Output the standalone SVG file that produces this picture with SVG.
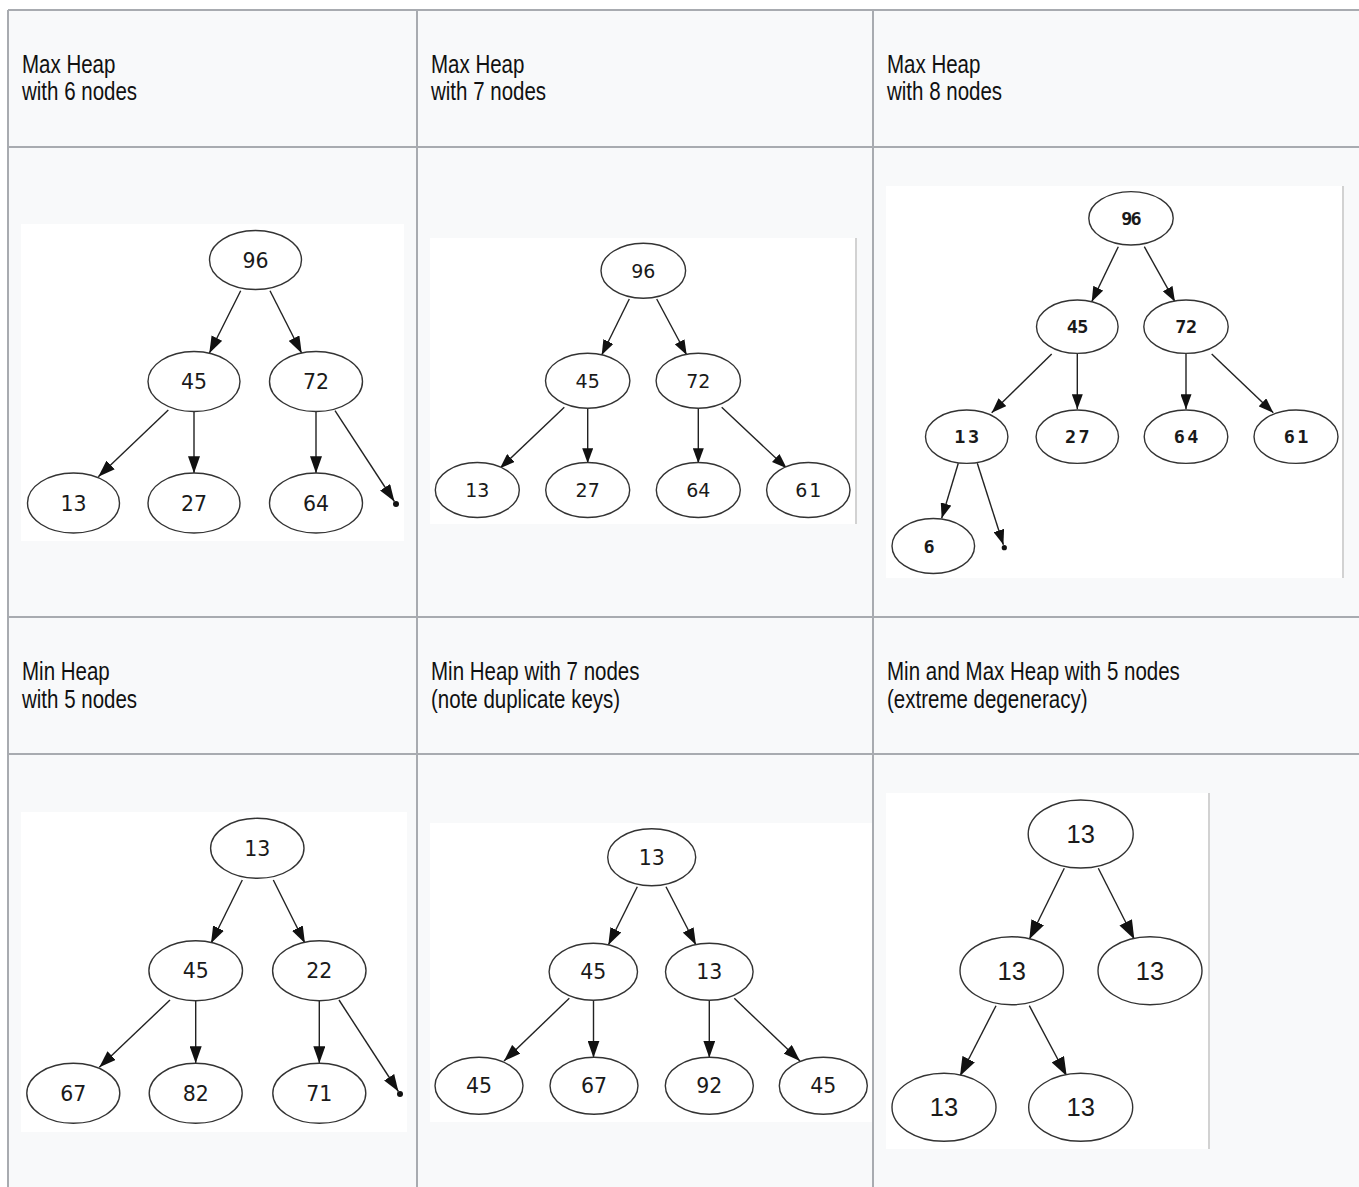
<svg xmlns="http://www.w3.org/2000/svg" width="1359" height="1187" viewBox="0 0 1359 1187">
<style>
.grid{stroke:#a8abb0;stroke-width:2;fill:none}
.hdr{font-family:"Liberation Sans",Arial,sans-serif;font-size:25px;fill:#111}
.img{fill:#ffffff}
.imgedge{stroke:#d2d2d2;stroke-width:2}
.nd{fill:#ffffff;stroke:#333;stroke-width:1.4}
.t1{font-family:"DejaVu Sans",sans-serif;font-size:20.5px;fill:#1a1a1a;text-anchor:middle}
.t2{font-family:"DejaVu Sans",sans-serif;font-size:19px;fill:#1a1a1a;text-anchor:middle}
.t3{font-family:"DejaVu Sans Mono",monospace;font-weight:bold;font-size:18.5px;fill:#1a1a1a;text-anchor:middle}
.t6{font-family:"Liberation Sans",Arial,sans-serif;font-size:25.5px;fill:#1a1a1a;text-anchor:middle}
.e{stroke:#222;stroke-width:1.4;fill:none}
.eA{marker-end:url(#mA)}
.eB{marker-end:url(#mB)}
.eC{marker-end:url(#mC)}
.dot{fill:#111}
</style>
<defs>
<marker id="mA" markerUnits="userSpaceOnUse" markerWidth="17" markerHeight="12" refX="17" refY="6" orient="auto"><path d="M0,0 L17,6 L0,12 z" fill="#111"/></marker>
<marker id="mB" markerUnits="userSpaceOnUse" markerWidth="15" markerHeight="11" refX="15" refY="5.5" orient="auto"><path d="M0,0 L15,5.5 L0,11 z" fill="#111"/></marker>
<marker id="mC" markerUnits="userSpaceOnUse" markerWidth="19" markerHeight="14" refX="19" refY="7" orient="auto"><path d="M0,0 L19,7 L0,14 z" fill="#111"/></marker>
</defs>
<rect x="0" y="0" width="1359" height="1187" fill="#ffffff"/>
<g id="table">
<rect x="8" y="10" width="1360" height="1190" fill="#f8f9fa"/>
<line class="grid" x1="8" y1="10" x2="1359" y2="10"/>
<line class="grid" x1="8" y1="147" x2="1359" y2="147"/>
<line class="grid" x1="8" y1="617" x2="1359" y2="617"/>
<line class="grid" x1="8" y1="754" x2="1359" y2="754"/>
<line class="grid" x1="8" y1="10" x2="8" y2="1187"/>
<line class="grid" x1="417" y1="10" x2="417" y2="1187"/>
<line class="grid" x1="873" y1="10" x2="873" y2="1187"/>
</g>
<g id="headers">
<text class="hdr" transform="translate(22,73) scale(0.82,1)">Max Heap</text>
<text class="hdr" transform="translate(22,100) scale(0.82,1)">with 6 nodes</text>
<text class="hdr" transform="translate(431,73) scale(0.82,1)">Max Heap</text>
<text class="hdr" transform="translate(431,100) scale(0.82,1)">with 7 nodes</text>
<text class="hdr" transform="translate(887,73) scale(0.82,1)">Max Heap</text>
<text class="hdr" transform="translate(887,100) scale(0.82,1)">with 8 nodes</text>
<text class="hdr" transform="translate(22,680) scale(0.82,1)">Min Heap</text>
<text class="hdr" transform="translate(22,707.5) scale(0.82,1)">with 5 nodes</text>
<text class="hdr" transform="translate(431,680) scale(0.82,1)">Min Heap with 7 nodes</text>
<text class="hdr" transform="translate(431,707.5) scale(0.82,1)">(note duplicate keys)</text>
<text class="hdr" transform="translate(887,680) scale(0.82,1)">Min and Max Heap with 5 nodes</text>
<text class="hdr" transform="translate(887,707.5) scale(0.82,1)">(extreme degeneracy)</text>
</g>
<g id="backgrounds">
<rect class="img" x="21" y="224" width="383" height="317"/>
<rect class="img" x="430" y="238" width="426" height="286"/>
<line class="imgedge" x1="856" y1="238" x2="856" y2="524"/>
<rect class="img" x="886" y="186" width="456" height="392"/>
<line class="imgedge" x1="1343" y1="186" x2="1343" y2="578"/>
<rect class="img" x="21" y="812" width="386" height="320"/>
<rect class="img" x="430" y="823" width="442" height="299"/>
<rect class="img" x="886" y="793" width="322" height="356"/>
<line class="imgedge" x1="1209" y1="793" x2="1209" y2="1149"/>
</g>
<g id="connectors">
<!-- panel 1 -->
<line class="e eA" x1="240.7" y1="290.7" x2="209.3" y2="353.3"/>
<line class="e eA" x1="270" y1="290.7" x2="301.7" y2="353.3"/>
<line class="e eA" x1="168.3" y1="410" x2="98.3" y2="476.7"/>
<line class="e eA" x1="194" y1="411.5" x2="194" y2="473.3"/>
<line class="e eA" x1="316" y1="411.5" x2="316" y2="473.3"/>
<line class="e eA" x1="335" y1="410.7" x2="394.4" y2="501.5"/>
<!-- panel 2 -->
<line class="e eB" x1="629.3" y1="299" x2="601.7" y2="355"/>
<line class="e eB" x1="656.7" y1="299" x2="686.7" y2="355"/>
<line class="e eB" x1="564.3" y1="407.3" x2="500" y2="468.3"/>
<line class="e eB" x1="587.7" y1="408.2" x2="587.7" y2="463.3"/>
<line class="e eB" x1="698.3" y1="408.2" x2="698.3" y2="463.3"/>
<line class="e eB" x1="721.7" y1="407.3" x2="786.7" y2="468.3"/>
<!-- panel 3 -->
<line class="e eB" x1="1118.3" y1="246.7" x2="1091.7" y2="301.7"/>
<line class="e eB" x1="1144.3" y1="246.7" x2="1175" y2="301.7"/>
<line class="e eB" x1="1051.7" y1="354" x2="991.7" y2="412.7"/>
<line class="e eB" x1="1077.3" y1="353.4" x2="1077.3" y2="409.3"/>
<line class="e eB" x1="1186" y1="353.4" x2="1186" y2="409.3"/>
<line class="e eB" x1="1211.7" y1="354" x2="1273.3" y2="412.7"/>
<line class="e eB" x1="958.3" y1="463.3" x2="941.7" y2="518.3"/>
<line class="e eB" x1="977.3" y1="463.3" x2="1003.4" y2="544.8"/>
<!-- panel 4 -->
<line class="e eA" x1="242.3" y1="880" x2="211" y2="943.3"/>
<line class="e eA" x1="273.3" y1="880" x2="305" y2="943.3"/>
<line class="e eA" x1="170" y1="1000" x2="99.3" y2="1067.3"/>
<line class="e eA" x1="195.7" y1="1000.7" x2="195.7" y2="1063.3"/>
<line class="e eA" x1="319.3" y1="1000.7" x2="319.3" y2="1063.3"/>
<line class="e eA" x1="339" y1="1000" x2="398.4" y2="1091.5"/>
<!-- panel 5 -->
<line class="e eA" x1="637.3" y1="886.7" x2="608.3" y2="945"/>
<line class="e eA" x1="666" y1="886.7" x2="696" y2="945"/>
<line class="e eA" x1="569.3" y1="998.3" x2="504" y2="1061"/>
<line class="e eA" x1="593.5" y1="1000.2" x2="593.5" y2="1057.7"/>
<line class="e eA" x1="709.3" y1="1000.2" x2="709.3" y2="1057.7"/>
<line class="e eA" x1="734.3" y1="998.3" x2="800" y2="1061"/>
<!-- panel 6 -->
<line class="e eC" x1="1064.3" y1="868.3" x2="1029.3" y2="939.3"/>
<line class="e eC" x1="1098.3" y1="868.3" x2="1134.3" y2="939.3"/>
<line class="e eC" x1="996" y1="1005.7" x2="960" y2="1076"/>
<line class="e eC" x1="1029.3" y1="1005.7" x2="1066.7" y2="1076"/>
</g>
<!-- Panel 1: Max Heap with 6 nodes -->
<g id="p1-96"><ellipse class="nd" cx="255.5" cy="260" rx="46" ry="29.5"/><text class="t1" x="255.5" y="267.5">96</text></g>
<g id="p1-45"><ellipse class="nd" cx="194" cy="381.5" rx="46" ry="30"/><text class="t1" x="194" y="389">45</text></g>
<g id="p1-72"><ellipse class="nd" cx="316" cy="381.5" rx="46.5" ry="30"/><text class="t1" x="316" y="389">72</text></g>
<g id="p1-13"><ellipse class="nd" cx="73.5" cy="503" rx="46" ry="30"/><text class="t1" x="73.5" y="510.5">13</text></g>
<g id="p1-27"><ellipse class="nd" cx="194" cy="503" rx="46" ry="30"/><text class="t1" x="194" y="510.5">27</text></g>
<g id="p1-64"><ellipse class="nd" cx="316" cy="503" rx="46.5" ry="30"/><text class="t1" x="316" y="510.5">64</text></g>
<g id="p1-null"><circle class="dot" cx="396" cy="504" r="3"/></g>
<!-- Panel 2: Max Heap with 7 nodes -->
<g id="p2-96"><ellipse class="nd" cx="643.3" cy="270.7" rx="42.3" ry="27.5"/><text class="t2" x="643.3" y="277.6">96</text></g>
<g id="p2-45"><ellipse class="nd" cx="587.7" cy="380.7" rx="42.2" ry="27.5"/><text class="t2" x="587.7" y="387.6">45</text></g>
<g id="p2-72"><ellipse class="nd" cx="698.3" cy="380.7" rx="42.2" ry="27.5"/><text class="t2" x="698.3" y="387.6">72</text></g>
<g id="p2-13"><ellipse class="nd" cx="477.3" cy="490" rx="42" ry="27.5"/><text class="t2" x="477.3" y="496.9">13</text></g>
<g id="p2-27"><ellipse class="nd" cx="587.7" cy="490" rx="42" ry="27.5"/><text class="t2" x="587.7" y="496.9">27</text></g>
<g id="p2-64"><ellipse class="nd" cx="698.3" cy="490" rx="42" ry="27.5"/><text class="t2" x="698.3" y="496.9">64</text></g>
<g id="p2-61"><ellipse class="nd" cx="808.3" cy="490" rx="41.7" ry="27.5"/><text class="t2" x="809.3" y="496.9" letter-spacing="2">61</text></g>
<!-- Panel 3: Max Heap with 8 nodes -->
<g id="p3-96"><ellipse class="nd" cx="1131" cy="218.3" rx="42.2" ry="26.7"/><text class="t3" x="1130.5" y="225" letter-spacing="-2">96</text></g>
<g id="p3-45"><ellipse class="nd" cx="1077.3" cy="326.7" rx="40.8" ry="26.7"/><text class="t3" x="1077.3" y="333.4" letter-spacing="-0.5">45</text></g>
<g id="p3-72"><ellipse class="nd" cx="1186" cy="326.7" rx="42.2" ry="26.7"/><text class="t3" x="1186" y="333.4" letter-spacing="-0.5">72</text></g>
<g id="p3-13"><ellipse class="nd" cx="966.7" cy="436.7" rx="41.2" ry="26.7"/><text class="t3" x="968" y="443.4" letter-spacing="2.5">13</text></g>
<g id="p3-27"><ellipse class="nd" cx="1077.3" cy="436.7" rx="41.2" ry="26.7"/><text class="t3" x="1078.6" y="443.4" letter-spacing="2.5">27</text></g>
<g id="p3-64"><ellipse class="nd" cx="1186" cy="436.7" rx="41.8" ry="26.7"/><text class="t3" x="1187.3" y="443.4" letter-spacing="2.5">64</text></g>
<g id="p3-61"><ellipse class="nd" cx="1296" cy="436.7" rx="42" ry="26.7"/><text class="t3" x="1297.3" y="443.4" letter-spacing="2.5">61</text></g>
<g id="p3-6"><ellipse class="nd" cx="933.3" cy="546" rx="41.3" ry="27.5"/><text class="t3" x="929" y="552.7">6</text></g>
<g id="p3-null"><circle class="dot" cx="1004.3" cy="547.7" r="2.6"/></g>
<!-- Panel 4: Min Heap with 5 nodes -->
<g id="p4-13"><ellipse class="nd" cx="257.3" cy="848.3" rx="46.7" ry="30"/><text class="t1" x="257.3" y="855.8">13</text></g>
<g id="p4-45"><ellipse class="nd" cx="195.7" cy="970.7" rx="46.8" ry="30"/><text class="t1" x="195.7" y="978.2">45</text></g>
<g id="p4-22"><ellipse class="nd" cx="319.3" cy="970.7" rx="46.7" ry="30"/><text class="t1" x="319.3" y="978.2">22</text></g>
<g id="p4-67"><ellipse class="nd" cx="73.3" cy="1093.3" rx="46.5" ry="30"/><text class="t1" x="73.3" y="1100.8">67</text></g>
<g id="p4-82"><ellipse class="nd" cx="195.7" cy="1093.3" rx="46.5" ry="30"/><text class="t1" x="195.7" y="1100.8">82</text></g>
<g id="p4-71"><ellipse class="nd" cx="319.3" cy="1093.3" rx="46.5" ry="30"/><text class="t1" x="319.3" y="1100.8">71</text></g>
<g id="p4-null"><circle class="dot" cx="400" cy="1094" r="3"/></g>
<!-- Panel 5: Min Heap with 7 nodes -->
<g id="p5-13a"><ellipse class="nd" cx="651.7" cy="857.3" rx="44" ry="28.5"/><text class="t1" x="651.7" y="864.8">13</text></g>
<g id="p5-45a"><ellipse class="nd" cx="593.3" cy="971.7" rx="44.2" ry="28.5"/><text class="t1" x="593.3" y="979.2">45</text></g>
<g id="p5-13b"><ellipse class="nd" cx="709.3" cy="971.7" rx="43.8" ry="28.5"/><text class="t1" x="709.3" y="979.2">13</text></g>
<g id="p5-45b"><ellipse class="nd" cx="479" cy="1085.7" rx="44" ry="28.5"/><text class="t1" x="479" y="1093.2">45</text></g>
<g id="p5-67"><ellipse class="nd" cx="594" cy="1085.7" rx="44" ry="28.5"/><text class="t1" x="594" y="1093.2">67</text></g>
<g id="p5-92"><ellipse class="nd" cx="709.3" cy="1085.7" rx="44" ry="28.5"/><text class="t1" x="709.3" y="1093.2">92</text></g>
<g id="p5-45c"><ellipse class="nd" cx="823.3" cy="1085.7" rx="44" ry="28.5"/><text class="t1" x="823.3" y="1093.2">45</text></g>
<!-- Panel 6: Min and Max Heap with 5 nodes -->
<g id="p6-top"><ellipse class="nd" cx="1080.7" cy="834" rx="52.5" ry="34"/><text class="t6" x="1080.7" y="843">13</text></g>
<g id="p6-ml"><ellipse class="nd" cx="1011.7" cy="970.7" rx="51.7" ry="34"/><text class="t6" x="1011.7" y="979.7">13</text></g>
<g id="p6-mr"><ellipse class="nd" cx="1150" cy="970.7" rx="52" ry="34"/><text class="t6" x="1150" y="979.7">13</text></g>
<g id="p6-bl"><ellipse class="nd" cx="944" cy="1107.3" rx="52" ry="34"/><text class="t6" x="944" y="1116.3">13</text></g>
<g id="p6-br"><ellipse class="nd" cx="1080.7" cy="1107.3" rx="52" ry="34"/><text class="t6" x="1080.7" y="1116.3">13</text></g>
</svg>
